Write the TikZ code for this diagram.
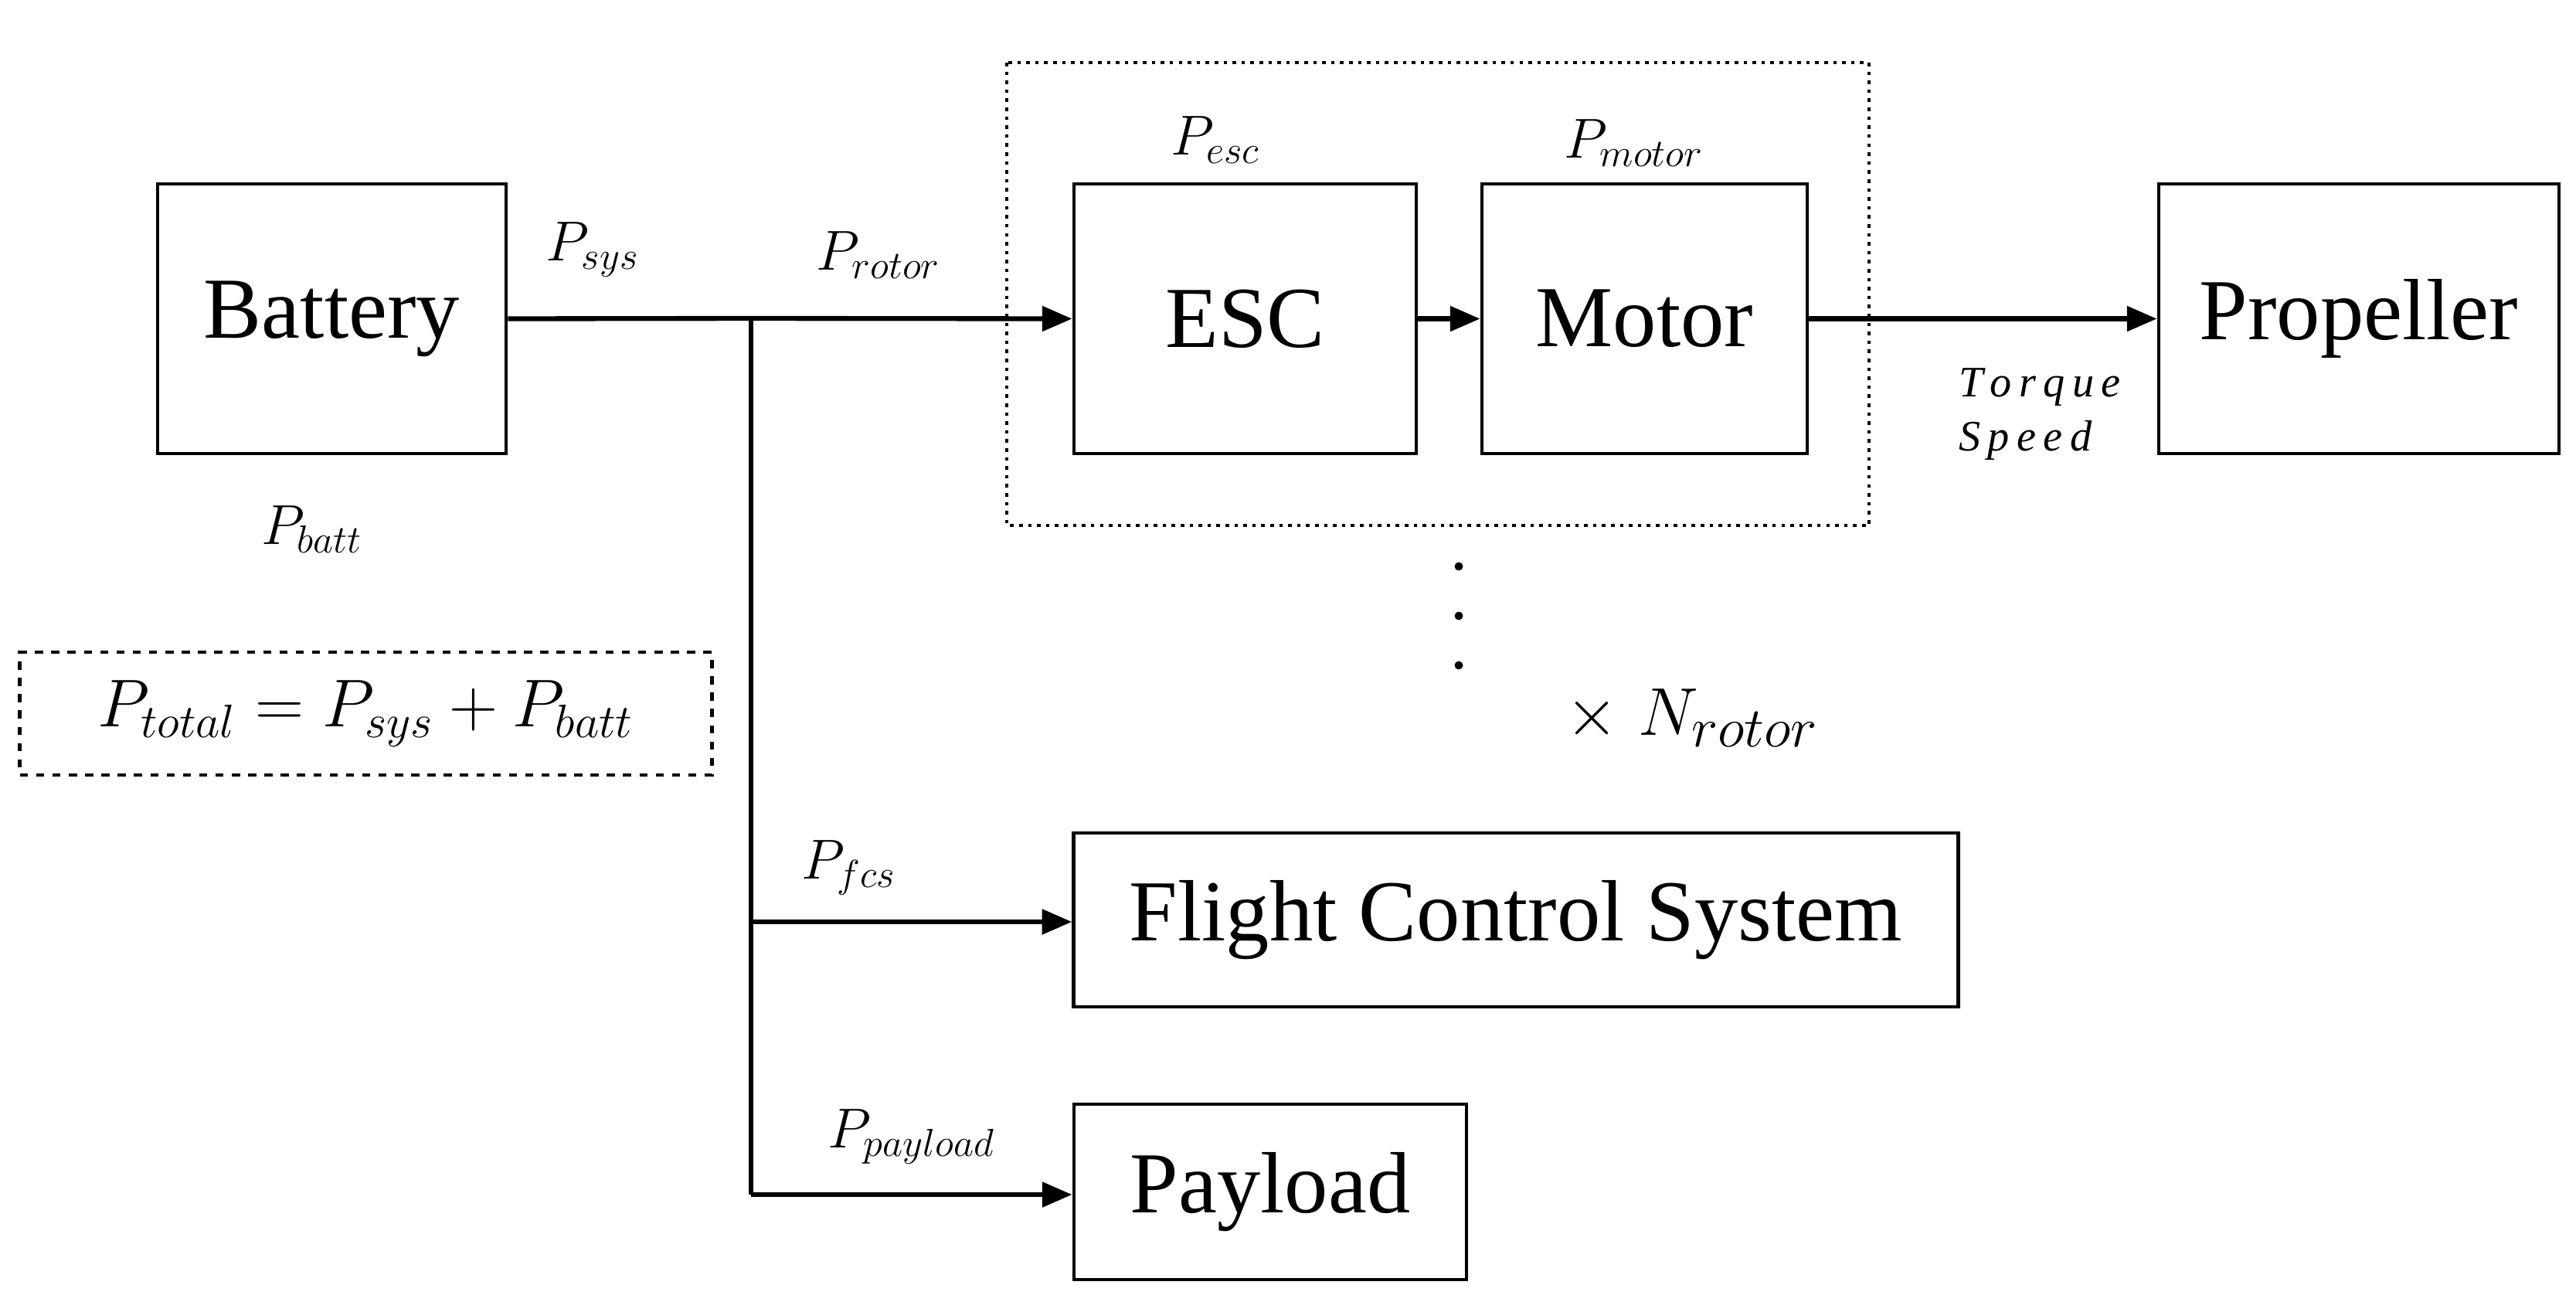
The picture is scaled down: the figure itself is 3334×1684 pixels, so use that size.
\documentclass[tikz,border=0pt]{standalone}
\usepackage{fontspec}
\setmainfont{Liberation Serif}
\usetikzlibrary{arrows.meta}
\begin{document}
\begin{tikzpicture}[x=0.01cm,y=-0.01cm,
  box/.style={draw,line width=1.3pt,inner sep=0pt,font=\fontsize{32}{36}\selectfont},
  arr/.style={line width=1.8pt,-{Triangle[length=11pt,width=9pt]}},
  ln/.style={line width=1.8pt},
  lab/.style={font=\fontsize{22}{24}\selectfont}]
\useasboundingbox (0,0) rectangle (3334,1684);
\node[box,minimum width=4.51cm,minimum height=3.49cm] (bat) at (429.5,412.5) {Battery};
\node[box,minimum width=4.43cm,minimum height=3.49cm] (esc) at (1611.5,412.5) {ESC};
\node[box,minimum width=4.21cm,minimum height=3.49cm] (mot) at (2128.5,412.5) {Motor};
\node[box,minimum width=5.18cm,minimum height=3.49cm] (prop) at (3053,412.5) {Propeller};
\node[box,minimum width=11.44cm,minimum height=2.25cm] (fcs) at (1962,1190.5) {Flight Control System};
\node[box,minimum width=5.08cm,minimum height=2.27cm] (pay) at (1644,1542.5) {Payload};
\draw[line width=1.3pt,dotted] (1303,81) rectangle (2419,680);
\node[draw,line width=1.3pt,dashed,minimum width=8.95cm,minimum height=1.59cm,inner sep=0pt,font=\fontsize{25}{28}\selectfont] (tot) at (473.5,923.5) {$P_{total}=P_{sys}+P_{batt}$};
\coordinate (j) at (972,412);
\coordinate (jf) at (972,1193);
\coordinate (jp) at (972,1546);
\draw[ln] (bat.east) -- (j);
\draw[arr] (j) -- (esc.west);
\draw[arr] (esc.east) -- (mot.west);
\draw[arr] (mot.east) -- (prop.west);
\draw[ln] (j) -- (jp);
\draw[arr] (jf) -- (fcs.west |- jf);
\draw[arr] (jp) -- (pay.west |- jp);
\node[lab] (ps) at (767,323) {$P_{sys}$};
\node[lab] (pr) at (1137,330) {$P_{rotor}$};
\node[lab] (pe) at (1573,181) {$P_{esc}$};
\node[lab] (pm) at (2115,185) {$P_{motor}$};
\node[lab] (pb) at (404,685) {$P_{batt}$};
\node[lab] (pf) at (1099,1123) {$P_{fcs}$};
\node[lab] (pp) at (1180,1471) {$P_{payload}$};
\node[font=\fontsize{16}{20}\selectfont\itshape,align=left] (ts) at (2640,536) {T\,o\,r\,q\,u\,e\\S\,p\,e\,e\,d};
\foreach \yy/\n in {733/d1,797/d2,861/d3} \node[circle,fill,inner sep=1.1pt] (\n) at (1888,\yy) {};
\node[font=\fontsize{30}{32}\selectfont] (nr) at (2190,929) {$\times\ N_{rotor}$};
\end{tikzpicture}
\end{document}
